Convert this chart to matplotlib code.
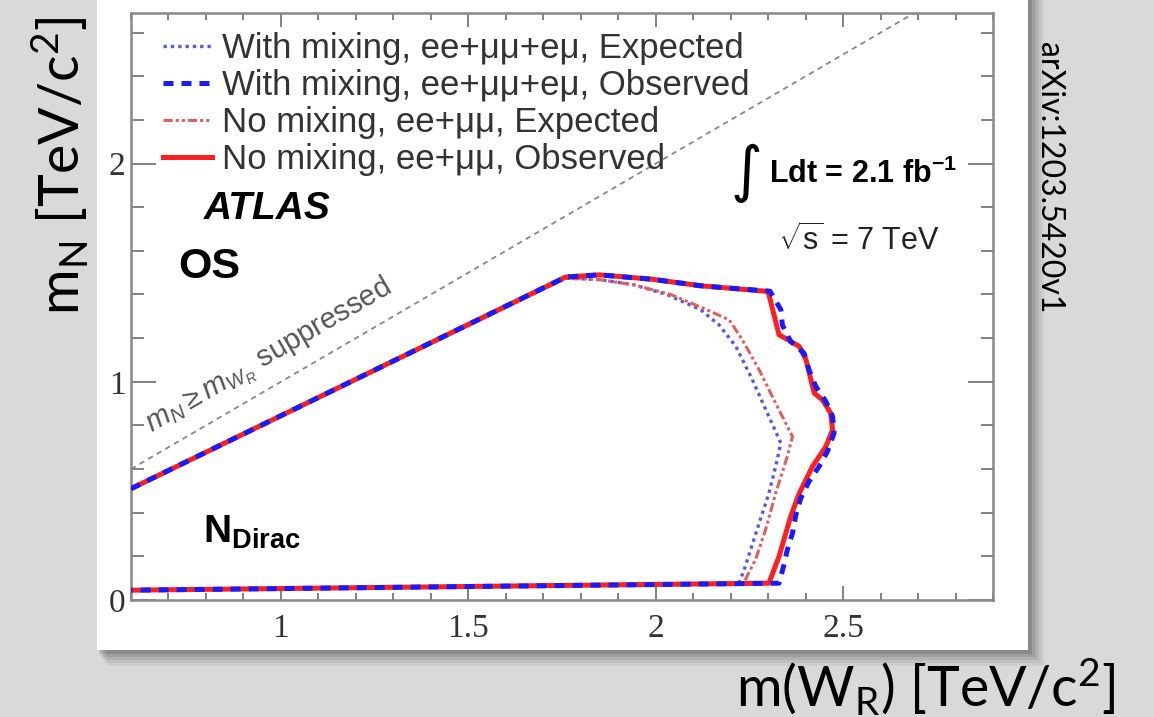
import matplotlib
matplotlib.use("Agg")
import matplotlib.pyplot as plt
from matplotlib.patches import Rectangle
from matplotlib.ticker import MultipleLocator

plt.rcParams["mathtext.fontset"] = "custom"
plt.rcParams["mathtext.rm"] = "Liberation Sans"
plt.rcParams["mathtext.it"] = "Liberation Sans:italic"
plt.rcParams["mathtext.bf"] = "Liberation Sans:bold"

# exclusion contours (m(W_R), m_N in TeV)
mix_exp_x = [0.60, 1.76, 1.85, 1.94, 2.03, 2.12, 2.169, 2.214, 2.258, 2.302, 2.334, 2.320, 2.302, 2.276, 2.253, 2.236, 2.222, 0.60]
mix_exp_y = [0.51, 1.475, 1.468, 1.445, 1.40, 1.33, 1.261, 1.162, 1.009, 0.841, 0.719, 0.612, 0.489, 0.352, 0.229, 0.138, 0.077, 0.045]

mix_obs_x = [0.60, 1.76, 1.85, 1.99, 2.12, 2.305, 2.334, 2.338, 2.360, 2.396, 2.409, 2.427, 2.454, 2.472, 2.476,
             2.458, 2.436, 2.409, 2.387, 2.374, 2.365, 2.351, 2.342, 2.329, 0.60]
mix_obs_y = [0.51, 1.48, 1.49, 1.47, 1.44, 1.415, 1.33, 1.26, 1.185, 1.131, 1.055, 0.979, 0.910, 0.841, 0.765,
             0.680, 0.612, 0.543, 0.466, 0.390, 0.306, 0.229, 0.160, 0.077, 0.045]

nomix_exp_x = [0.60, 1.76, 1.85, 1.94, 2.04, 2.13, 2.196, 2.231, 2.276, 2.320, 2.365, 2.351, 2.320, 2.293, 2.267, 2.240, 2.232, 0.60]
nomix_exp_y = [0.51, 1.475, 1.468, 1.445, 1.40, 1.335, 1.284, 1.193, 1.055, 0.902, 0.749, 0.657, 0.489, 0.321, 0.188, 0.096, 0.077, 0.045]

nomix_obs_x = [0.60, 1.76, 1.85, 1.99, 2.12, 2.30, 2.329, 2.352, 2.383, 2.401, 2.423, 2.445, 2.467, 2.472,
               2.454, 2.418, 2.383, 2.360, 2.329, 2.302, 0.60]
nomix_obs_y = [0.51, 1.48, 1.49, 1.47, 1.44, 1.414, 1.216, 1.193, 1.162, 1.101, 0.948, 0.917, 0.856, 0.780,
               0.703, 0.611, 0.489, 0.382, 0.199, 0.077, 0.045]

# m_N = m_WR boundary
diag_x = [0.6, 2.7]
diag_y = [0.6, 2.7]

labels = ["With mixing, ee+\u03bc\u03bc+e\u03bc, Expected",
          "With mixing, ee+\u03bc\u03bc+e\u03bc, Observed",
          "No mixing, ee+\u03bc\u03bc, Expected",
          "No mixing, ee+\u03bc\u03bc, Observed"]

W, H = 1154, 717
fig = plt.figure(figsize=(W / 100, H / 100), dpi=100)
fig.patch.set_facecolor("#d9d9d9")

# white slide panel with a soft drop shadow behind it
for i, a in enumerate([0.05, 0.06, 0.08, 0.10, 0.12]):
    off = 16 - 3 * i
    fig.patches.append(Rectangle(((97 + off * 0.6) / W, (H - 650 - off) / H), (931 + off * 0.4) / W, 1.2,
                                 transform=fig.transFigure, facecolor="black", alpha=a,
                                 edgecolor="none", zorder=-3))
fig.patches.append(Rectangle((97 / W, (H - 650) / H), (1028 - 97) / W, 650 / H + 0.05, transform=fig.transFigure,
                             facecolor="white", edgecolor="none", zorder=-1))

ax = fig.add_axes([131 / W, (H - 600) / H, (993 - 131) / W, (600 - 13) / H])
ax.set_facecolor("white")
ax.set_xlim(0.6, 2.9)
ax.set_ylim(0, 2.69)

ax.plot(diag_x, diag_y, color="#888888", lw=1.3, ls=(0, (3, 2.5)), zorder=1)

ax.plot(mix_exp_x, mix_exp_y, color="#5a5ad8", lw=2.4, ls=(0, (1, 1.2)), zorder=2, label=labels[0])
ax.plot(mix_obs_x, mix_obs_y, color="#1a1aff", lw=3.6, ls=(0, (2, 1.6)), zorder=4, label=labels[1])
ax.plot(nomix_exp_x, nomix_exp_y, color="#e06060", lw=2.2, ls=(0, (3, 1, 1, 1, 1, 1)), zorder=2, label=labels[2])
ax.plot(nomix_obs_x, nomix_obs_y, color="#ff1f1f", lw=3.6, zorder=3, label=labels[3])

leg = ax.legend(loc="upper left", bbox_to_anchor=(0.037, 0.968), frameon=False, borderpad=0, borderaxespad=0,
                handlelength=1.4, handletextpad=0.3, labelspacing=0.12,
                prop={"family": "Liberation Sans", "size": 25})
for t in leg.get_texts():
    t.set_color("#333333")

ax.text(0.793, 1.794, "ATLAS", fontsize=28, fontweight="bold", style="italic", family="Liberation Sans",
        va="center", ha="left")
ax.text(0.726, 1.528, "OS", fontsize=31, fontweight="bold", family="Liberation Sans", va="center", ha="left")
ax.text(0.793, 0.261, r"N$_\mathbf{Dirac}$", fontsize=28, fontweight="bold", family="Liberation Sans",
        va="baseline", ha="left")
ax.text(2.303, 1.913, r"Ldt = 2.1 fb$^{\mathbf{-1}}$", fontsize=22, fontweight="bold",
        family="Liberation Sans", ha="left", va="baseline")
ax.text(2.285, 1.955, "\u222b", fontsize=44, family="DejaVu Sans", ha="right", va="center")
ax.text(2.327, 1.606, r"$\sqrt{\mathrm{s}}$ = 7 TeV", fontsize=22, family="Liberation Sans", ha="left",
        va="baseline", color="#222222")
ax.text(0.656, 0.766, r"$m_{N} \geq m_{W_{R}}$ suppressed", fontsize=21, color="#555555",
        family="Liberation Sans", rotation=45, transform_rotates_text=True, rotation_mode="anchor",
        ha="left", va="baseline")

ax.xaxis.set_major_locator(MultipleLocator(0.5))
ax.xaxis.set_minor_locator(MultipleLocator(0.1))
ax.yaxis.set_major_locator(MultipleLocator(1))
ax.yaxis.set_minor_locator(MultipleLocator(0.2))
ax.tick_params(which="both", direction="in", top=True, right=True, color="#777777", width=1.3,
               labelsize=24, labelcolor="#333333")
ax.tick_params(axis="x", which="major", length=10, pad=10)
ax.tick_params(axis="x", which="minor", length=5)
ax.tick_params(axis="y", which="major", length=18, pad=4)
ax.tick_params(axis="y", which="minor", length=9)
ax.set_xticks([1, 1.5, 2, 2.5])
ax.set_xticklabels(["1", "1.5", "2", "2.5"])
ax.set_yticks([0, 1, 2])
ax.set_yticklabels(["0", "1", "2"])
for lab in ax.get_xticklabels() + ax.get_yticklabels():
    lab.set_family("Liberation Serif")
for s in ax.spines.values():
    s.set_color("#888888")
    s.set_linewidth(1.8)

# slide texts outside the plot
fig.text(60 / W, 1 - 166 / H, r"m$_\mathregular{N}$ [TeV/c$^\mathregular{2}$]", rotation=90, fontsize=40,
         family="Lato", ha="center", va="center", color="black")
fig.text(1116 / W, 1 - 706 / H, r"m(W$_\mathregular{R}$) [TeV/c$^\mathregular{2}$]", fontsize=40,
         family="Lato", ha="right", va="baseline", color="black")
fig.text(1049 / W, 1 - 178 / H, "arXiv:1203.5420v1", rotation=-90, fontsize=23, family="Lato",
         ha="center", va="center", color="black")

fig.savefig("out.png", dpi=100, facecolor=fig.get_facecolor())
